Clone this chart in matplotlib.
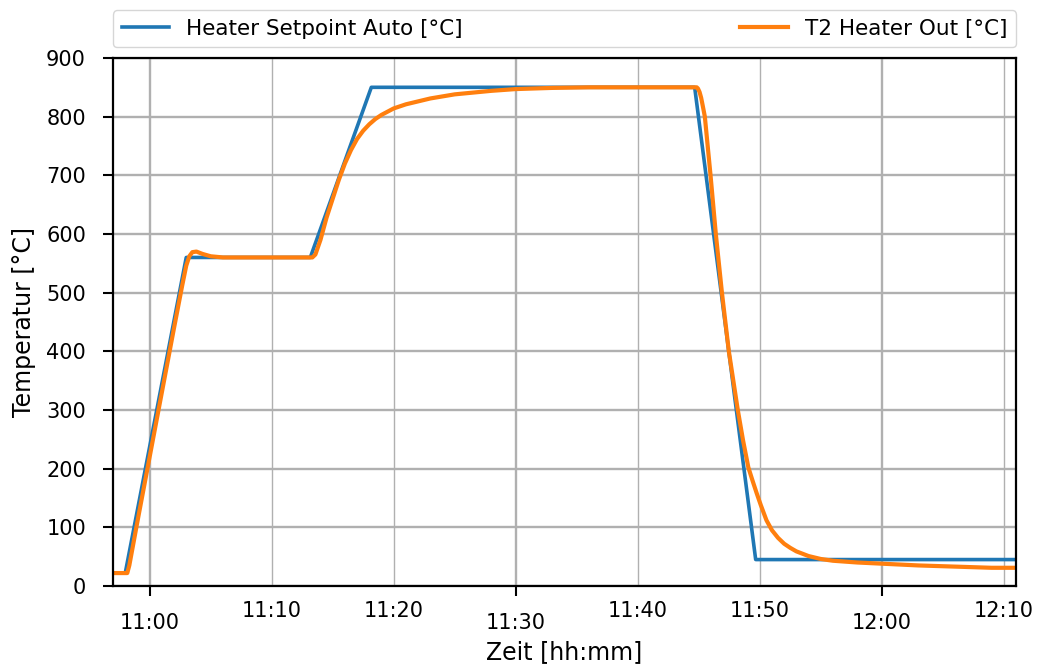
import pandas as pd
import matplotlib
matplotlib.use("Agg")
import matplotlib.pyplot as plt
import matplotlib.dates as mdates


# Data

setpoint_time = ["10:57:00", "10:58:00", "11:03:00", "11:13:10", "11:18:10",
                 "11:44:40", "11:49:40", "12:11:00"]
setpoint_temp = [22, 22, 560, 560, 850, 850, 45, 45]

heater_time = ["10:57:00", "10:58:10", "10:58:20", "10:59:00", "11:00:00", "11:01:00",
               "11:02:00", "11:02:40", "11:03:00", "11:03:15", "11:03:30", "11:03:50",
               "11:04:20", "11:05:00", "11:06:00", "11:13:20", "11:13:35", "11:14:00",
               "11:14:30", "11:15:00", "11:15:30", "11:16:00", "11:16:30", "11:17:00",
               "11:17:30", "11:18:00", "11:18:30", "11:19:00", "11:20:00", "11:21:00",
               "11:22:00", "11:23:00", "11:25:00", "11:28:00", "11:30:00", "11:33:00",
               "11:36:00", "11:44:50", "11:44:56", "11:45:04", "11:45:12", "11:45:20",
               "11:45:30", "11:45:58", "11:46:24", "11:46:54", "11:47:28", "11:48:12",
               "11:48:38", "11:49:04", "11:49:26", "11:49:45", "11:50:05", "11:50:33",
               "11:51:00", "11:51:30", "11:52:00", "11:52:30", "11:53:00", "11:54:00",
               "11:55:00", "11:56:00", "11:58:00", "12:00:00", "12:03:00", "12:06:00",
               "12:09:00", "12:11:00"]
heater_temp = [22, 22, 35, 110, 220, 330,
               440, 512, 546, 562, 569, 570,
               566, 562, 560, 560, 565, 590,
               628, 660, 692, 720, 743, 762,
               776, 787, 796, 803, 814, 821,
               826, 831, 838, 844, 847, 849,
               850, 850, 848, 842, 832, 818,
               800, 700, 600, 500, 400, 300,
               248, 202, 178, 158, 138, 112,
               95, 82, 72, 65, 59, 51,
               46, 43, 40, 38, 35, 33,
               31, 31]

day = "2019-05-10 "
sp_t = pd.to_datetime([day + t for t in setpoint_time])
ht_t = pd.to_datetime([day + t for t in heater_time])


# Plot

fig = plt.figure(figsize=(10.38, 6.68), dpi=100)
ax = fig.add_axes([0.1089, 0.1228, 0.8699, 0.7904])

ax.plot(sp_t, setpoint_temp, color="#1f77b4", lw=2.6, label="Heater Setpoint Auto [°C]")
ax.plot(ht_t, heater_temp, color="#ff7f0e", lw=3.0, label="T2 Heater Out [°C]")

ax.set_xlim(pd.Timestamp(day + "10:57:00"), pd.Timestamp(day + "12:11:00"))
ax.set_ylim(0, 900)
ax.set_yticks(range(0, 901, 100))

ax.xaxis.set_major_locator(mdates.MinuteLocator(byminute=[0, 30]))
ax.xaxis.set_minor_locator(mdates.MinuteLocator(byminute=[10, 20, 40, 50]))
ax.xaxis.set_major_formatter(mdates.DateFormatter("%H:%M"))
ax.xaxis.set_minor_formatter(mdates.DateFormatter("%H:%M"))

ax.tick_params(axis="x", which="major", length=7.5, width=1.5, pad=12, labelsize=15)
ax.tick_params(axis="x", which="minor", length=0, pad=10.5, labelsize=15)
ax.tick_params(axis="y", length=7.5, width=1.5, pad=12, labelsize=15)

ax.grid(which="major", axis="both", color="#b0b0b0", lw=1.7)
ax.grid(which="minor", axis="x", color="#b0b0b0", lw=1.0)
ax.set_axisbelow(True)

for s in ax.spines.values():
    s.set_linewidth(1.6)

ax.set_xlabel("Zeit [hh:mm]", fontsize=17, labelpad=5)
ax.set_ylabel("Temperatur [°C]", fontsize=17, labelpad=7)

ax.legend(loc="lower left", bbox_to_anchor=(0, 1.02, 1, 0.1), mode="expand",
          ncol=2, borderaxespad=0, fontsize=15.5, handlelength=2.2)

fig.savefig("out.png", dpi=100)
